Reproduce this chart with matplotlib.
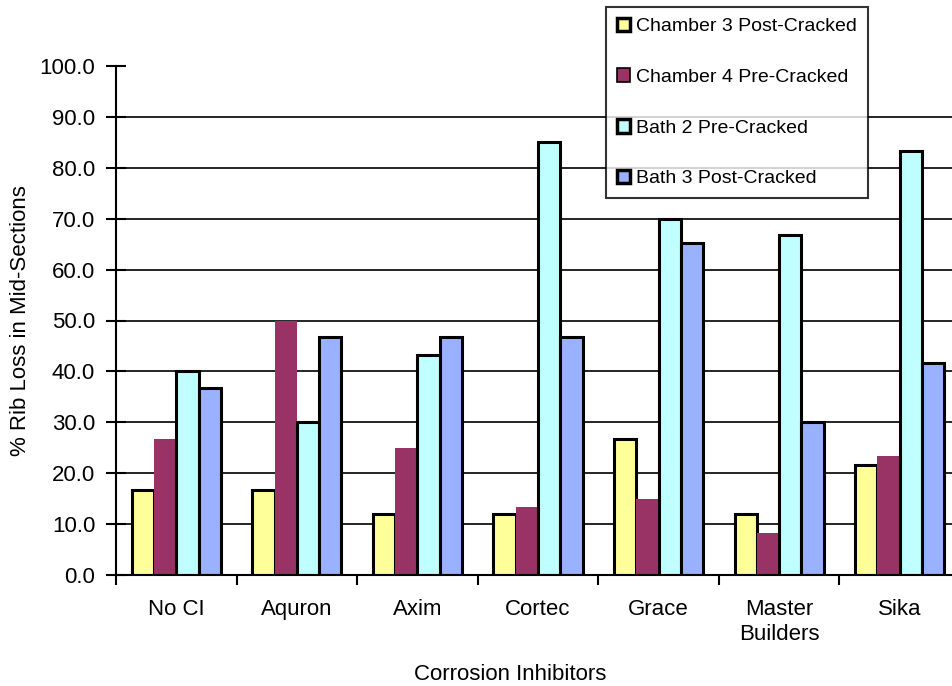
import matplotlib.pyplot as plt
from matplotlib.patches import Patch
import numpy as np

plt.rcParams['font.family'] = ['Liberation Sans', 'DejaVu Sans']

categories = ['No CI', 'Aquron', 'Axim', 'Cortec', 'Grace', 'Master\nBuilders', 'Sika']
series_names = ['Chamber 3 Post-Cracked', 'Chamber 4 Pre-Cracked',
                'Bath 2 Pre-Cracked', 'Bath 3 Post-Cracked']
chamber3_post = [16.7, 16.7, 12.0, 12.0, 26.7, 12.0, 21.7]
chamber4_pre = [26.7, 50.0, 25.0, 13.3, 15.0, 8.3, 23.3]
bath2_pre = [40.0, 30.0, 43.3, 85.0, 70.0, 66.7, 83.3]
bath3_post = [36.7, 46.7, 46.7, 46.7, 65.3, 30.0, 41.7]

colors = ['#FFFF99', '#993366', '#C0FFFF', '#99B1FF']
edge_widths = [2.2, 0, 2.2, 2.2]

fig = plt.figure(figsize=(9.53, 6.86), dpi=100)
# plot area runs slightly past the right edge of the figure, like the original
ax = fig.add_axes([116 / 953, 111 / 686, 844 / 953, 509 / 686])

x = np.arange(len(categories)) + 0.5
bw = 0.185
all_series = [chamber3_post, chamber4_pre, bath2_pre, bath3_post]
for i, vals in enumerate(all_series):
    ax.bar(x + (i - 1.5) * bw, vals, bw, color=colors[i], edgecolor='black',
           linewidth=edge_widths[i], zorder=3)

for g in range(10, 100, 10):
    ax.axhline(g, color='black', linewidth=1.2, zorder=1)

ax.set_xlim(0, len(categories))
ax.set_ylim(0, 100)
ax.set_yticks(np.arange(0, 101, 10))
ax.set_yticklabels([f'{v:.1f}' for v in np.arange(0, 101, 10)], fontsize=16)
ax.tick_params(axis='y', direction='inout', length=14, width=1.5, pad=8)

ax.set_xticks(np.arange(0, len(categories) + 1))
ax.set_xticklabels([])
ax.tick_params(axis='x', which='major', direction='out', length=7, width=1.5)
ax.set_xticks(x, minor=True)
ax.set_xticklabels(categories, minor=True, fontsize=16, linespacing=1.25)
ax.tick_params(axis='x', which='minor', length=0, pad=17)

for s in ['top', 'right']:
    ax.spines[s].set_visible(False)
for s in ['left', 'bottom']:
    ax.spines[s].set_linewidth(1.5)
ax.spines['bottom'].set_zorder(4)

ax.set_ylabel('% Rib Loss in Mid-Sections', fontsize=16, labelpad=6)
ax.set_xlabel('Corrosion Inhibitors', fontsize=16)
ax.xaxis.set_label_coords(0.467, -0.174)

handles = [Patch(facecolor=colors[i], edgecolor='black',
                 linewidth=2.5 if edge_widths[i] else 1.2) for i in range(4)]
leg = fig.legend(handles, series_names, loc='upper left',
                 bbox_to_anchor=(606 / 953, 1 - 7 / 686), fontsize=14,
                 frameon=True, fancybox=False, edgecolor='black',
                 handlelength=0.7, handleheight=0.7, handletextpad=0.3,
                 labelspacing=1.7, borderpad=0.55, borderaxespad=0)
leg.get_frame().set_linewidth(1.5)

fig.savefig('out.png', dpi=100)
